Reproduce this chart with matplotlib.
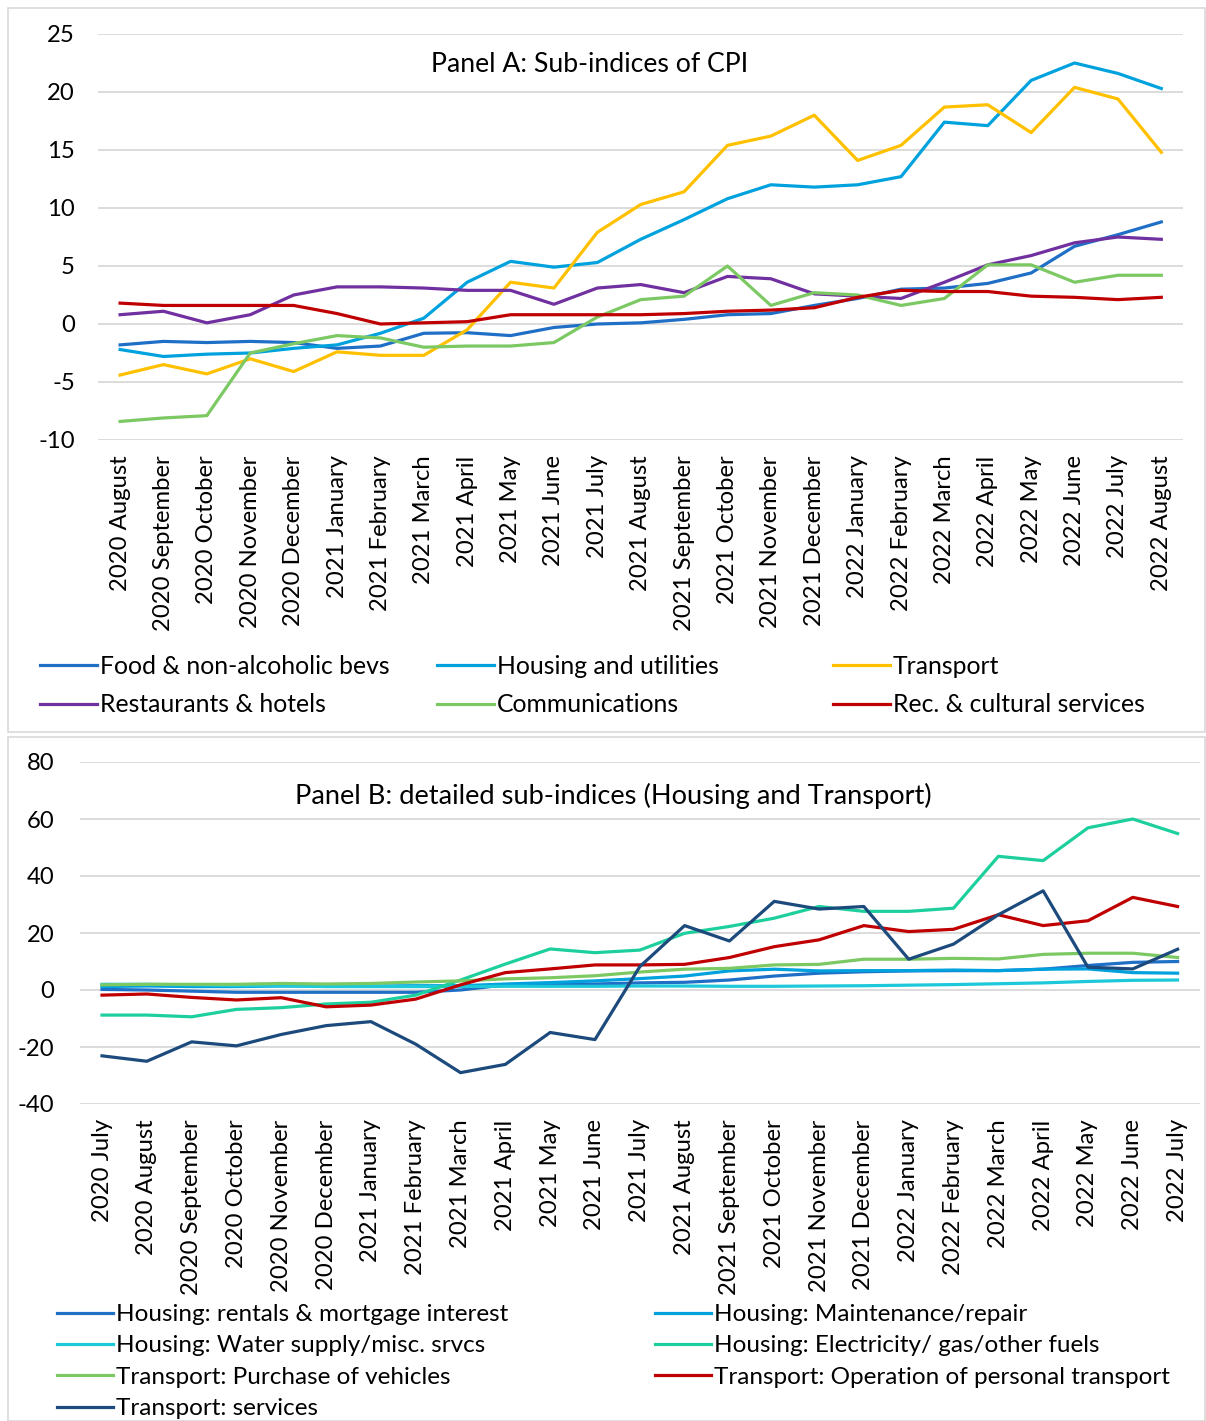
import matplotlib
matplotlib.use('Agg')
import matplotlib.pyplot as plt
from matplotlib.patches import Rectangle

plt.rcParams['font.family'] = ['Lato', 'DejaVu Sans']
plt.rcParams['axes.unicode_minus'] = False

# ---- Panel A data: sub-indices of CPI (% y/y) ----
months_a = ['2020 August', '2020 September', '2020 October', '2020 November', '2020 December',
            '2021 January', '2021 February', '2021 March', '2021 April', '2021 May', '2021 June',
            '2021 July', '2021 August', '2021 September', '2021 October', '2021 November',
            '2021 December', '2022 January', '2022 February', '2022 March', '2022 April',
            '2022 May', '2022 June', '2022 July', '2022 August']
food = [-1.8, -1.5, -1.6, -1.5, -1.6, -2.1, -1.9, -0.8, -0.75, -1.0, -0.3, 0.0, 0.1,
        0.4, 0.8, 0.9, 1.6, 2.2, 3.0, 3.1, 3.5, 4.4, 6.7, 7.7, 8.8]
housing = [-2.2, -2.8, -2.6, -2.5, -2.1, -1.8, -0.8, 0.5, 3.6, 5.4, 4.9, 5.3, 7.3,
           9.0, 10.8, 12.0, 11.8, 12.0, 12.7, 17.4, 17.1, 21.0, 22.5, 21.6, 20.3]
transport = [-4.4, -3.5, -4.3, -3.0, -4.1, -2.4, -2.7, -2.7, -0.5, 3.6, 3.1, 7.9, 10.3,
             11.4, 15.4, 16.2, 18.0, 14.1, 15.4, 18.7, 18.9, 16.5, 20.4, 19.4, 14.8]
restaurants = [0.8, 1.1, 0.1, 0.8, 2.5, 3.2, 3.2, 3.1, 2.9, 2.9, 1.7, 3.1, 3.4,
               2.7, 4.1, 3.9, 2.6, 2.4, 2.2, 3.6, 5.1, 5.9, 7.0, 7.5, 7.3]
communications = [-8.4, -8.1, -7.9, -2.5, -1.7, -1.0, -1.2, -2.0, -1.9, -1.9, -1.6, 0.6, 2.1,
                  2.4, 5.0, 1.6, 2.7, 2.5, 1.6, 2.2, 5.1, 5.1, 3.6, 4.2, 4.2]
recreation = [1.8, 1.6, 1.6, 1.6, 1.6, 0.9, 0.0, 0.1, 0.2, 0.8, 0.8, 0.8, 0.8,
              0.9, 1.1, 1.2, 1.4, 2.3, 2.9, 2.8, 2.8, 2.4, 2.3, 2.1, 2.3]

# ---- Panel B data: detailed sub-indices (Housing and Transport) ----
months_b = ['2020 July', '2020 August', '2020 September', '2020 October', '2020 November',
            '2020 December', '2021 January', '2021 February', '2021 March', '2021 April',
            '2021 May', '2021 June', '2021 July', '2021 August', '2021 September',
            '2021 October', '2021 November', '2021 December', '2022 January', '2022 February',
            '2022 March', '2022 April', '2022 May', '2022 June', '2022 July']
rentals = [0.2, 0.0, -0.4, -0.8, -0.8, -0.8, -0.8, -0.8, 0.0, 1.8, 2.1, 2.1, 2.5,
           2.7, 3.5, 4.9, 5.9, 6.4, 6.7, 6.8, 6.8, 7.3, 8.6, 9.7, 10.0]
maintenance = [1.2, 1.4, 1.2, 1.2, 1.4, 1.4, 1.4, 1.5, 1.5, 2.1, 2.6, 3.2, 4.0,
               4.9, 6.7, 7.3, 6.7, 6.8, 6.8, 7.0, 6.8, 7.3, 7.4, 6.1, 5.9]
water = [2.0, 2.0, 1.8, 1.5, 1.5, 1.2, 1.2, 1.2, 1.2, 1.3, 1.3, 1.3, 1.4,
         1.4, 1.3, 1.3, 1.4, 1.5, 1.7, 1.9, 2.2, 2.5, 3.0, 3.4, 3.5]
electricity = [-8.8, -8.8, -9.4, -6.8, -6.2, -4.9, -4.3, -1.8, 3.5, 9.1, 14.4, 13.1, 14.0,
               19.9, 22.3, 25.2, 29.3, 27.6, 27.6, 28.7, 46.9, 45.4, 56.9, 60.0, 54.9]
vehicles = [1.8, 2.0, 2.0, 2.0, 2.3, 2.1, 2.3, 2.8, 3.2, 3.9, 4.3, 5.0, 6.3,
            7.3, 7.6, 8.8, 9.0, 10.8, 10.8, 11.1, 10.9, 12.5, 12.9, 12.9, 11.4]
operation = [-1.8, -1.4, -2.6, -3.5, -2.7, -5.9, -5.3, -3.2, 1.8, 6.1, 7.4, 8.8, 8.8,
             9.0, 11.4, 15.2, 17.6, 22.6, 20.5, 21.3, 26.4, 22.6, 24.3, 32.5, 29.3]
services = [-23.1, -25.0, -18.2, -19.6, -15.6, -12.5, -11.1, -19.0, -29.0, -26.1, -14.9, -17.4, 8.2,
            22.6, 17.2, 31.1, 28.4, 29.3, 10.8, 16.1, 26.4, 34.8, 8.0, 7.4, 14.3]

series_a = [
    ('Food & non-alcoholic bevs', food, '#1F6FC6'),
    ('Housing and utilities', housing, '#00A2DE'),
    ('Transport', transport, '#FFC000'),
    ('Restaurants & hotels', restaurants, '#7030A0'),
    ('Communications', communications, '#7CC964'),
    ('Rec. & cultural services', recreation, '#C00000'),
]
series_b = [
    ('Housing: rentals & mortgage interest', rentals, '#1F6FC6'),
    ('Housing: Maintenance/repair', maintenance, '#00A1DD'),
    ('Housing: Water supply/misc. srvcs', water, '#1CC8DA'),
    ('Housing: Electricity/ gas/other fuels', electricity, '#1ECF9E'),
    ('Transport: Purchase of vehicles', vehicles, '#7CC964'),
    ('Transport: Operation of personal transport', operation, '#C00000'),
    ('Transport: services', services, '#1C4A7C'),
]

W, H = 1206, 1421
FS = 17.2
GRID = '#D9D9D9'
LEG = {3: (17.8, 0.62), 2: (17.5, 0.43)}   # ncol -> (fontsize, labelspacing)


def rect(l, t, r, b):
    # pixel box -> figure fraction [left, bottom, width, height]
    return [l / W, 1 - b / H, (r - l) / W, (b - t) / H]


def style_axis(ax, months, ylim, step, ypad, xpad):
    ax.set_xlim(-0.5, len(months) - 0.5)
    ax.set_ylim(*ylim)
    ax.set_yticks(range(ylim[0], ylim[1] + 1, step))
    ax.set_xticks(range(len(months)))
    ax.set_xticklabels(months, rotation=90)
    ax.tick_params(axis='both', length=0, labelsize=FS)
    ax.tick_params(axis='y', pad=ypad)
    ax.tick_params(axis='x', pad=xpad)
    ax.grid(axis='y', color=GRID, lw=1.3)
    ax.set_axisbelow(True)
    for s in ax.spines.values():
        s.set_visible(False)


def column_legends(fig, handles, labels, ncol, xs, top):
    fs, ls = LEG[ncol]
    for c in range(ncol):
        idx = list(range(c, len(handles), ncol))
        fig.legend([handles[i] for i in idx], [labels[i] for i in idx],
                   loc='upper left', bbox_to_anchor=(xs[c] / W, 1 - top / H),
                   frameon=False, fontsize=fs, handlelength=2.3,
                   handletextpad=0.12, borderpad=0, borderaxespad=0,
                   labelspacing=ls)


fig = plt.figure(figsize=(W / 100, H / 100), dpi=100)

# chart area borders
fig.patches.append(Rectangle((8 / W, 1 - 732 / H), 1197 / W, 724 / H, transform=fig.transFigure,
                             fill=False, edgecolor=GRID, lw=1.2))
fig.patches.append(Rectangle((8 / W, 0), 1197 / W, 1 - 737 / H, transform=fig.transFigure,
                             fill=False, edgecolor=GRID, lw=1.2))

# ---- Panel A ----
ax_a = fig.add_axes(rect(98.4, 34, 1183, 440))
style_axis(ax_a, months_a, (-10, 25), 5, 17, 11)
lines_a = []
for name, vals, col in series_a:
    ln, = ax_a.plot(range(len(months_a)), vals, color=col, lw=2.3, label=name,
                    solid_joinstyle='round')
    lines_a.append(ln)
fig.text(590 / W, 1 - 65 / H, 'Panel A: Sub-indices of CPI', ha='center', va='center',
         fontsize=19.2)
column_legends(fig, lines_a, [s[0] for s in series_a], 3, [40, 437, 833], 655)

# ---- Panel B ----
ax_b = fig.add_axes(rect(79.6, 762, 1200, 1104))
style_axis(ax_b, months_b, (-40, 80), 20, 18, 11)
lines_b = []
for name, vals, col in series_b:
    ln, = ax_b.plot(range(len(months_b)), vals, color=col, lw=2.3, label=name,
                    solid_joinstyle='round')
    lines_b.append(ln)
fig.text(613 / W, 1 - 796 / H, 'Panel B: detailed sub-indices (Housing and Transport)',
         ha='center', va='center', fontsize=19.6)
column_legends(fig, lines_b, [s[0] for s in series_b], 2, [57, 655], 1304)

fig.savefig('out.png', dpi=100)
